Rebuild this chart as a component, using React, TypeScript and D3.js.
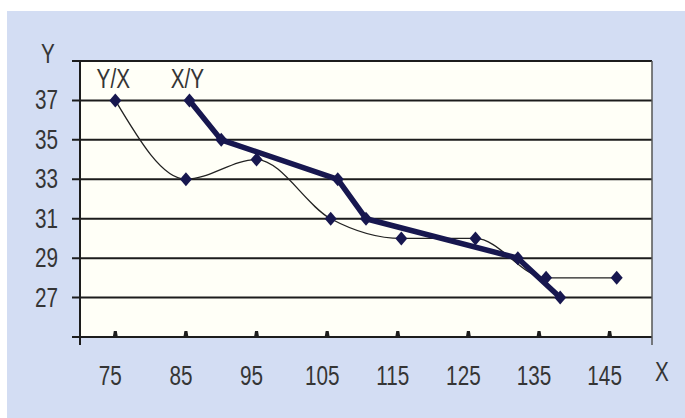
import React from "react";
import * as d3 from "d3";

// ---- data ----
const yxX = [75, 85, 95, 105.5, 115.5, 126, 136, 146];
const yxY = [37, 33, 34, 31, 30, 30, 28, 28];
const xyX = [85.5, 90, 106.5, 110.5, 132, 138];
const xyY = [37, 35, 33, 31, 29, 27];
const xTicks = [75, 85, 95, 105, 115, 125, 135, 145];
const yTicks = [27, 29, 31, 33, 35, 37];
const gridLevels = [27, 29, 31, 33, 35, 37, 39];
const seriesLabels = [
  { text: "Y/X", x: 75, y: 39 },
  { text: "X/Y", x: 85.5, y: 39 },
];

const W = 685;
const H = 418;
const left = 80;
const right = 652;
const top = 61;
const bottom = 337;

const BG = "#d3ddf3";
const PLOT = "#fffff7";
const INK = "#1c1c1c";
const NAVY = "#17174f";
const TXT = "#353535";
const FONT = "'Liberation Sans', Arial, sans-serif";
const SX = 0.74;

export default function App() {
  const x = d3.scaleLinear().domain([70, 151]).range([left, right]);
  const y = d3.scaleLinear().domain([25, 39]).range([bottom, top]);

  const yx = yxX.map((v, i) => [v, yxY[i]] as [number, number]);
  const xy = xyX.map((v, i) => [v, xyY[i]] as [number, number]);

  const thin = d3
    .line<[number, number]>()
    .x((d) => x(d[0]))
    .y((d) => y(d[1]))
    .curve(d3.curveMonotoneX)(yx) as string;
  const thick = d3
    .line<[number, number]>()
    .x((d) => x(d[0]))
    .y((d) => y(d[1]))(xy) as string;

  const diamond = (cx: number, cy: number, hw = 6, hh = 7) =>
    `M${cx},${cy - hh}L${cx + hw},${cy}L${cx},${cy + hh}L${cx - hw},${cy}Z`;

  const txt = (
    key: string,
    s: string,
    tx: number,
    ty: number,
    anchor: "start" | "middle" | "end",
    size = 28
  ) => (
    <text
      key={key}
      transform={`translate(${tx},${ty}) scale(${SX},1)`}
      textAnchor={anchor}
      fontFamily={FONT}
      fontSize={size}
      fill={TXT}
    >
      {s}
    </text>
  );

  return (
    <svg
      width={W}
      height={H}
      style={{ position: "fixed", left: 0, top: 0, display: "block" }}
    >
      <rect x={0} y={0} width={W} height={H} fill="#ffffff" />
      <rect x={7} y={11} width={W - 7} height={H - 11} fill={BG} />
      <rect x={left} y={top} width={right - left} height={bottom - top} fill={PLOT} />

      {/* gridlines */}
      {gridLevels.map((g) => (
        <line
          key={"g" + g}
          x1={left - 8}
          x2={right}
          y1={y(g)}
          y2={y(g)}
          stroke={INK}
          strokeWidth={2}
        />
      ))}

      {/* axes */}
      <line x1={left - 8} x2={right} y1={bottom} y2={bottom} stroke={INK} strokeWidth={2} />
      <line x1={left} x2={left} y1={top} y2={bottom + 8} stroke={INK} strokeWidth={2} />
      <line x1={right} x2={right} y1={top} y2={bottom + 8} stroke="#555" strokeWidth={1.5} />

      {/* small marks on x axis */}
      {xTicks.map((t) => (
        <path
          key={"tm" + t}
          d={`M${x(t) - 2.5},${bottom}L${x(t) - 1.5},${bottom - 6}L${x(t) + 1.5},${bottom - 6}L${x(t) + 2.5},${bottom}Z`}
          fill={INK}
        />
      ))}

      {/* y tick labels */}
      {yTicks.map((t) => txt("yl" + t, String(t), 58, y(t) + 9, "end"))}
      {txt("ytitle", "Y", 48, 63, "middle")}

      {/* x tick labels */}
      {xTicks.map((t) => txt("xl" + t, String(t), x(t) - 5, 385, "middle"))}
      {txt("xtitle", "X", 662, 381, "middle")}

      {/* series labels */}
      {seriesLabels.map((s) =>
        txt("sl" + s.text, s.text, x(s.x) - 2, y(s.y) + 27, "middle")
      )}

      {/* lines */}
      <path d={thin} fill="none" stroke="#222" strokeWidth={1.3} />
      <path
        d={thick}
        fill="none"
        stroke={NAVY}
        strokeWidth={5.5}
        strokeLinejoin="round"
        strokeLinecap="round"
      />

      {/* markers */}
      {yx.map((d, i) => (
        <path key={"m1" + i} d={diamond(x(d[0]), y(d[1]))} fill={NAVY} />
      ))}
      {xy.map((d, i) => (
        <path key={"m2" + i} d={diamond(x(d[0]), y(d[1]))} fill={NAVY} />
      ))}
    </svg>
  );
}
